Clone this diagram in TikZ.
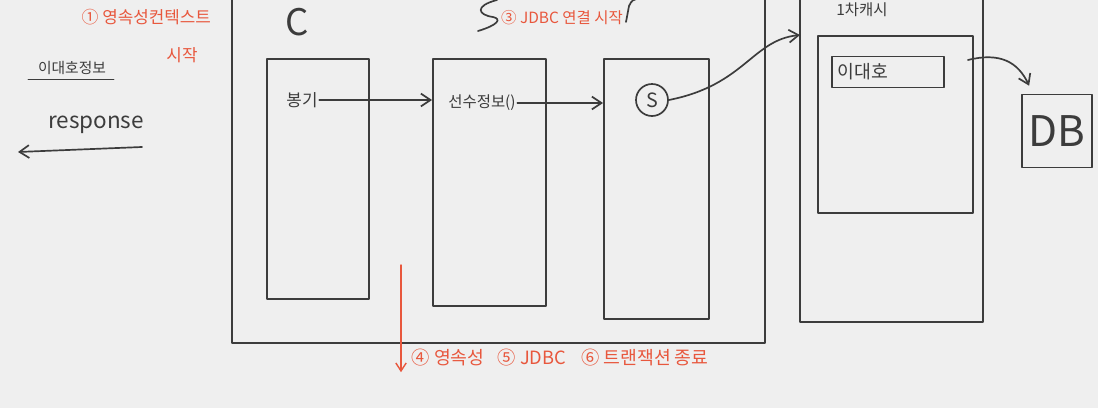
\documentclass[tikz,border=0pt]{standalone}
\usepackage{fontspec}
\setmainfont{Noto Sans CJK KR}
\usetikzlibrary{arrows.meta,positioning,calc}
\definecolor{ink}{HTML}{3C3C3C}
\definecolor{marker}{HTML}{E8573D}
\definecolor{board}{HTML}{EFEFEF}
\tikzset{
  pen/.style={draw=ink, line width=1.2pt, line cap=round, line join=round},
  redpen/.style={draw=marker, line width=1pt, line cap=round},
  layer/.style={rectangle, pen, anchor=north west, inner sep=0pt},
  inktext/.style={text=ink, font=\fontsize{#1}{#1}\selectfont, inner sep=1pt},
  inktext/.default=12,
  redtext/.style={text=marker, font=\fontsize{#1}{#1}\selectfont, inner sep=1pt},
  redtext/.default=12,
  arr/.style={pen, -{Straight Barb[length=2.4mm,width=3.2mm]}},
}
\begin{document}
\begin{tikzpicture}[x=0.025cm, y=-0.025cm]
\useasboundingbox[fill=board] (0,0) rectangle (1098,408);

% notes on the left
\node[redtext, anchor=west] (ctxstart) at (80,17) {① 영속성컨텍스트};
\node[redtext] (ctxstartb) at (182,55) {시작};
\node[inktext=10.5] (leeinfo) at (72,68) {이대호정보};
\draw[pen] ($(leeinfo.south west)+(-8,3)$) -- ($(leeinfo.south east)+(6,3)$);
\node[inktext=16] (resp) at (96,125) {response};
\coordinate (resptail) at (142,147);
\coordinate (resphead) at (18,152);
\draw[arr] (resptail) -- (resphead);

% controller area
\draw[pen] (232,-5) -- (232,343) -- (765,343) -- (765,-5);
\node[inktext=26] (ctrl) at (297,22) {C};

\node[layer, minimum width=2.55cm, minimum height=6cm] (box1) at (266,58) {};
\node[layer, minimum width=2.82cm, minimum height=6.18cm] (box2) at (432,58) {};
\node[layer, minimum width=2.62cm, minimum height=6.5cm] (box3) at (603,58) {};

\node[inktext] (bong) at (302,100) {봉기};
\node[inktext=11] (player) at (482,103) {선수정보()};
\node[circle, pen, inktext=14, minimum size=0.8cm, inner sep=0pt] (svc) at (652,100) {S};

\draw[arr] (bong.east) -- (box2.west |- bong.east);
\draw[arr] (player.east) -- (box3.west |- player.east);

% top annotation
\node[redtext=11] (jdbcopen) at (562,18) {③ JDBC 연결 시작};
\draw[pen] (497,0) .. controls (474,6) and (478,15) .. (493,17)
  .. controls (502,19) and (498,25) .. (478,31);
\draw[pen] (626,22) -- (629,6) .. controls (632,0) .. (641,-2);

% first level cache
\draw[pen] (800,-5) -- (800,322) -- (983,322) -- (983,-5);
\node[inktext=11] (cachelbl) at (862,10) {1차캐시};
\coordinate (cachein) at (800,35);
\draw[arr] (svc.east) .. controls (745,85) and (752,40) .. (cachein);

\node[layer, minimum width=3.88cm, minimum height=4.42cm] (cache) at (817,35) {};
\node[rectangle, pen, anchor=west, text width=2.5cm, align=left, minimum height=0.78cm,
      inner xsep=0.15cm, text=ink, font=\fontsize{13}{13}\selectfont] (entity) at (831,72) {이대호};

% database
\node[rectangle, pen, minimum width=1.75cm, minimum height=1.82cm, inktext=30] (db) at (1057,131) {DB};
\draw[arr] ($(cache.north east)+(-6,25)$) .. controls (1000,52) and (1018,62) .. ($(db.north west)+(8,-8)$);

% bottom annotation
\node[redtext=13, anchor=west] (closing) at (410,358) {④ 영속성\hspace{0.5em} ⑤ JDBC\hspace{0.6em} ⑥ 트랜잭션 종료};
\coordinate (redtop) at (401,265);
\draw[redpen, -{Straight Barb[length=2mm,width=2.6mm]}] (redtop) -- ($(redtop |- closing.south)+(0,4)$);
\end{tikzpicture}
\end{document}
